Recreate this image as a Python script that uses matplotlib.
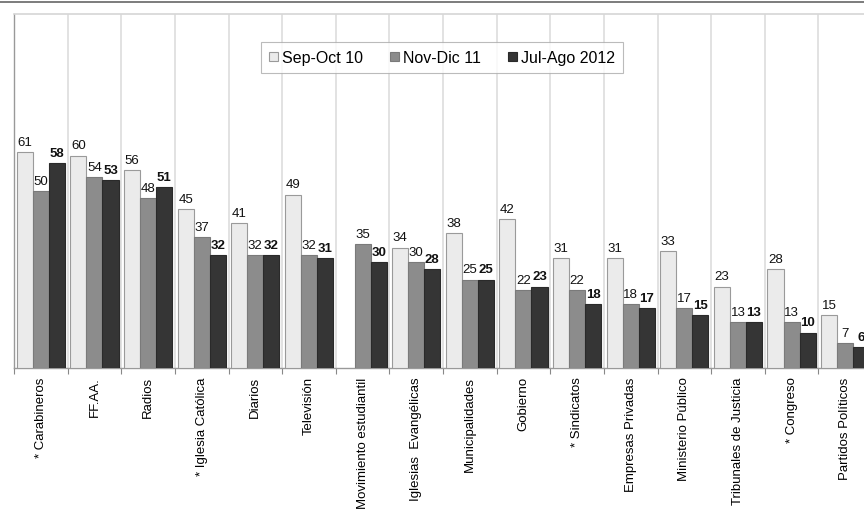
import numpy as np
import matplotlib.pyplot as plt
from matplotlib.lines import Line2D

plt.rcParams["font.family"] = ["Liberation Sans", "DejaVu Sans"]

categories = [
    "* Carabineros", "FF.AA.", "Radios", "* Iglesia Católica", "Diarios",
    "Televisión", "Movimiento estudiantil", "Iglesias  Evangélicas",
    "Municipalidades", "Gobierno", "* Sindicatos", "Empresas Privadas",
    "Ministerio Público", "Tribunales de Justicia", "* Congreso",
    "Partidos Políticos",
]
series_names = ["Sep-Oct 10", "Nov-Dic 11", "Jul-Ago 2012"]
sep_oct_10 = [61, 60, 56, 45, 41, 49, np.nan, 34, 38, 42, 31, 31, 33, 23, 28, 15]
nov_dic_11 = [50, 54, 48, 37, 32, 32, 35, 30, 25, 22, 22, 18, 17, 13, 13, 7]
jul_ago_12 = [58, 53, 51, 32, 32, 31, 30, 28, 25, 23, 18, 17, 15, 13, 10, 6]

colors = ["#ebebeb", "#8c8c8c", "#353535"]
edges = ["#9a9a9a", "#7a7a7a", "#2a2a2a"]

W, H = 864, 510
fig = plt.figure(figsize=(W / 100, H / 100), dpi=100)
# plot area runs slightly past the right edge, as in the original crop
ax = fig.add_axes([14 / W, (H - 369) / H, 858 / W, 354 / H])

x = np.arange(len(categories))
bw = 0.3
for k, (vals, c, ec) in enumerate(zip([sep_oct_10, nov_dic_11, jul_ago_12], colors, edges)):
    pos = x + (k - 1) * bw
    ax.bar(pos, vals, width=bw, color=c, edgecolor=ec, linewidth=0.8, zorder=3)
    for px, v in zip(pos, vals):
        if np.isnan(v):
            continue
        ax.annotate(f"{v:.0f}", (px, v), xytext=(0, 3), textcoords="offset points",
                    ha="center", va="bottom", fontsize=9.5, color="#111111",
                    fontweight="bold" if k == 2 else "normal")

ax.set_xlim(-0.5, len(categories) - 0.5)
ax.set_ylim(0, 100)
ax.set_yticks([])

ax.set_xticks(x)
ax.set_xticklabels(categories, rotation=90, fontsize=9.5, va="top")
ax.tick_params(axis="x", which="major", length=0, pad=6)
ax.set_xticks(np.arange(len(categories) + 1) - 0.5, minor=True)
ax.tick_params(axis="x", which="minor", length=4, color="#888888", width=0.8)
ax.grid(True, which="minor", axis="x", color="#dddddd", linewidth=1.2, zorder=0)

for s in ["left", "bottom"]:
    ax.spines[s].set_color("#999999")
    ax.spines[s].set_linewidth(1.0)
ax.spines["top"].set_color("#d6d6d6")
ax.spines["top"].set_linewidth(1.2)
ax.spines["right"].set_visible(False)

handles = [plt.Rectangle((0, 0), 1, 1, facecolor=c, edgecolor=ec, linewidth=0.8)
           for c, ec in zip(colors, edges)]
leg = fig.legend(handles, series_names, loc="upper center", ncol=3,
                 bbox_to_anchor=(442 / W, 1 - 35 / H), fontsize=11.5,
                 frameon=True, fancybox=False, handlelength=0.55, handleheight=0.55,
                 handletextpad=0.25, columnspacing=1.7, borderpad=0.5)
leg.get_frame().set_edgecolor("#aaaaaa")
leg.get_frame().set_linewidth(0.8)

# thin frame line at the very top of the image
fig.add_artist(Line2D([0, 1], [1 - 2.5 / H, 1 - 2.5 / H], color="#666666", linewidth=1.2))

fig.savefig("out.png", dpi=100)
